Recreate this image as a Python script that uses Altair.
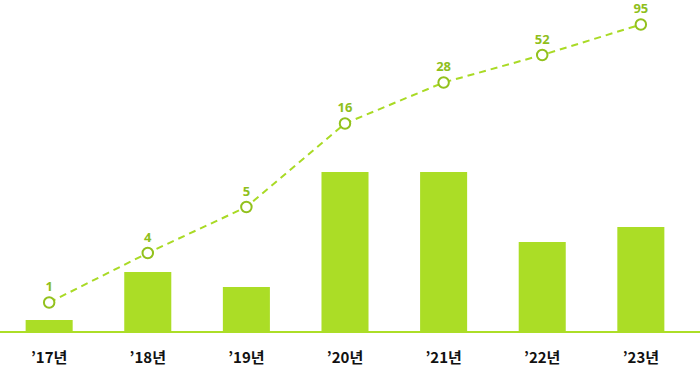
import altair as alt
import pandas as pd

years = ["’17년", "’18년", "’19년", "’20년", "’21년", "’22년", "’23년"]
bar_values = [12, 60, 45, 160, 160, 90, 105]
line_levels = [29.5, 79, 125, 208.5, 249.5, 277, 307.5]
line_labels = ["1", "4", "5", "16", "28", "52", "95"]

df = pd.DataFrame({
    "year": years,
    "bar": bar_values,
    "level": line_levels,
    "label": line_labels,
})

x = alt.X(
    "year:N",
    sort=years,
    title=None,
    scale=alt.Scale(paddingInner=0.523, paddingOuter=0.26),
    axis=alt.Axis(
        labelAngle=0,
        domain=False,
        ticks=False,
        grid=False,
        labelPadding=18,
        labelFontSize=15,
        labelFont="Noto Sans CJK KR",
        labelFontWeight=600,
        labelColor="#111111",
    ),
)
yscale = alt.Scale(domain=[0, 332], nice=False, zero=True)

bars = alt.Chart(df).mark_bar(color="#abdd26").encode(
    x=x,
    y=alt.Y("bar:Q", scale=yscale, axis=None),
)

baseline = alt.Chart(df).mark_rule(color="#abdd26", strokeWidth=1.2).encode(
    x=alt.value(0), x2=alt.value(700), y=alt.value(332)
)

line = alt.Chart(df).mark_line(
    color="#a9da25", strokeWidth=2, strokeDash=[7, 5]
).encode(
    x=x,
    y=alt.Y("level:Q", scale=yscale, axis=None),
)

points = alt.Chart(df).mark_point(
    shape="circle", filled=True, fill="white", stroke="#92c11d",
    strokeWidth=2, size=110, opacity=1
).encode(
    x=x,
    y=alt.Y("level:Q", scale=yscale, axis=None),
)

labels = alt.Chart(df).mark_text(
    dy=-15.5, baseline="middle", align="center", fontSize=13,
    fontWeight="bold", font="Noto Sans", color="#8fbf1c"
).encode(
    x=x,
    y=alt.Y("level:Q", scale=yscale, axis=None),
    text="label:N",
)

chart = alt.layer(bars, baseline, line, points, labels).properties(
    width=690,
    height=332,
    padding={"left": 0, "top": 0, "right": 10, "bottom": 36},
    autosize=alt.AutoSizeParams(type="none"),
).configure_view(stroke=None)

chart.save("out.html", embed_options={"renderer": "svg", "actions": False})
